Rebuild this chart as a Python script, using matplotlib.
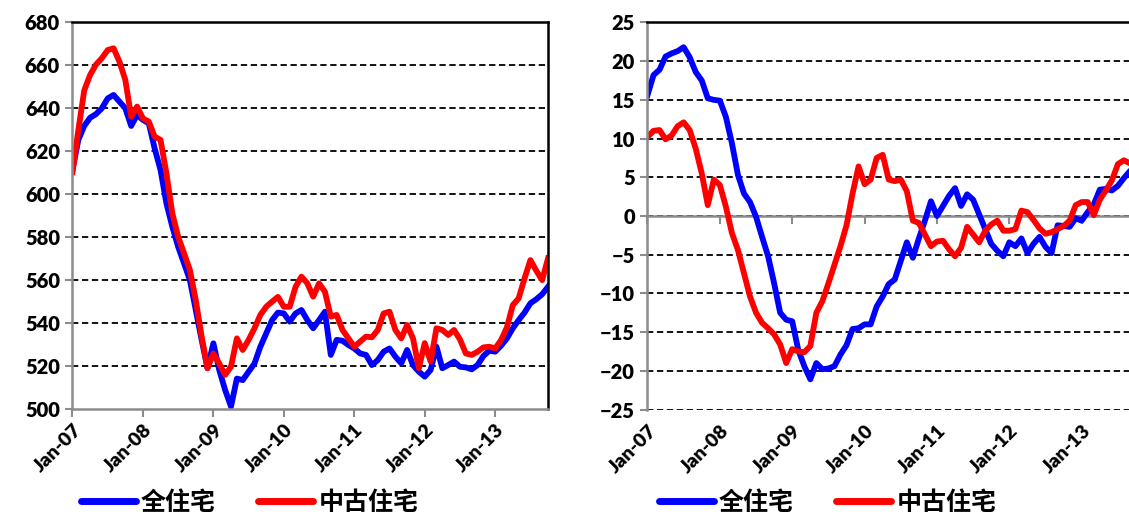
# 全住宅 / 中古住宅 价格与同比 双图
import matplotlib
matplotlib.use('Agg')
import matplotlib.pyplot as plt
from matplotlib.lines import Line2D
import numpy as np

plt.rcParams['font.family'] = ['Lato', 'DejaVu Sans']
plt.rcParams['font.weight'] = 'heavy'

# 月度数据 2007-01 ~ 2013-10
months = np.arange(82)
tick_pos = [0, 12, 24, 36, 48, 60, 72]
tick_label = ['Jan-07', 'Jan-08', 'Jan-09', 'Jan-10', 'Jan-11', 'Jan-12', 'Jan-13']
names = ['全住宅', '中古住宅']

# 左图：价格指数
price_all = [611, 625, 631.5, 635.3, 637, 639.7, 644.3, 645.9, 642.8, 639.7,
             631.5, 636.6, 634.3, 632.7, 621, 611, 595.5, 584.7, 575.3, 567.6,
             559.8, 545.9, 532, 518.8, 530.4, 518, 508.7, 501, 514, 513.3,
             517.2, 521, 528.8, 535, 541.2, 544.7, 544.3, 540.5, 544.3, 545.9,
             541.2, 537.4, 541.2, 545.1, 525, 532, 531.6, 529.6, 528, 525.7,
             525, 520.3, 522.6, 526.5, 528, 524.2, 521.1, 527.3, 520.3, 517.2,
             514.9, 518, 528.8, 518.8, 520.3, 521.9, 519.5, 519.2, 518.3, 520.3,
             524.5, 527, 526.5, 529.3, 532.7, 537.4, 541.2, 544.7, 549, 550.9,
             553.2, 556.7]
price_used = [610, 629.6, 648, 655.2, 660, 663, 666.8, 667.6, 661.4, 652.9,
              635.8, 640.5, 635, 633.5, 626.5, 625, 609.5, 590.9, 580, 572.3,
              564.5, 550.5, 533.5, 518.8, 525.7, 521, 515.7, 519.5, 532.7, 527.3,
              532, 537.4, 543.6, 547.4, 549.8, 552, 547.4, 547.4, 556.7, 561.4,
              558.3, 552.1, 558.3, 554.4, 542.8, 543.6, 536.6, 532.7, 528.8, 531.2,
              533.5, 533.2, 536.6, 544.3, 545.1, 536.6, 532.7, 538.9, 532.7, 518.8,
              530.5, 521.9, 537.4, 536.6, 534.3, 536.6, 532.2, 525.7, 525, 526.5,
              528.5, 528.8, 528, 531.9, 537.8, 548.2, 551.3, 560.6, 569.1, 564.2,
              559.8, 569.9]

# 右图：同比 (%)
yoy_all = [15.6, 18.2, 18.9, 20.6, 21.0, 21.3, 21.8, 20.5, 18.6, 17.5,
           15.2, 15.0, 14.9, 12.8, 9.4, 5.3, 2.9, 1.8, -0.1, -2.7,
           -5.2, -8.7, -12.5, -13.4, -13.6, -17.3, -19.4, -21.1, -19.0, -19.8,
           -19.7, -19.4, -17.9, -16.7, -14.6, -14.5, -14.0, -14.0, -11.7, -10.4,
           -8.8, -8.2, -5.8, -3.4, -5.4, -2.9, -0.6, 1.9, 0.0, 1.3,
           2.6, 3.6, 1.3, 2.8, 2.1, 0.2, -1.7, -3.6, -4.5, -5.2,
           -3.4, -3.9, -2.9, -4.8, -3.6, -2.7, -4.0, -4.8, -1.2, -1.3,
           -1.4, -0.3, -0.6, 0.5, 1.5, 3.4, 3.5, 3.3, 3.9, 4.9,
           5.8, 6.5]
yoy_used = [10.2, 11.0, 11.1, 9.9, 10.4, 11.6, 12.1, 11.1, 8.7, 5.5,
            1.4, 4.7, 4.0, 1.2, -2.2, -4.4, -7.4, -10.4, -12.5, -13.8,
            -14.5, -15.3, -16.6, -19.0, -17.2, -17.5, -17.6, -16.8, -12.5, -11.0,
            -8.7, -6.3, -3.9, -1.2, 2.9, 6.4, 4.1, 4.7, 7.5, 7.9,
            4.7, 4.5, 4.7, 3.2, -0.6, -0.9, -2.4, -3.9, -3.3, -3.2,
            -4.3, -5.2, -4.1, -1.4, -2.4, -3.4, -1.9, -1.1, -0.6, -1.9,
            -1.9, -1.7, 0.7, 0.5, -0.5, -1.6, -2.3, -2.1, -1.7, -1.3,
            -0.6, 1.4, 1.8, 1.8, 0.1, 2.1, 3.3, 4.6, 6.7, 7.2,
            6.8, 6.5]

fig = plt.figure(figsize=(11.29, 5.14), dpi=100)
ax1 = fig.add_axes([0.0642, 0.2049, 0.4212, 0.753])
ax2 = fig.add_axes([0.5735, 0.2033, 0.4327, 0.753])

grid_style = dict(color='black', lw=1.3, ls=(0, (3.5, 2)))
gray = '#8c8c8c'
lw = 4.2


def style_axes(ax, yticks):
    ax.set_xlim(0, 81)
    ax.set_yticks(yticks)
    ax.set_ylim(yticks[0], yticks[-1])
    for y in yticks[1:-1]:
        ax.axhline(y, zorder=0, **grid_style)
    ax.set_xticks(tick_pos)
    ax.set_xticklabels(tick_label, rotation=45, ha='right', rotation_mode='anchor')
    ax.tick_params(axis='x', labelsize=14, colors=gray, labelcolor='black')
    ax.tick_params(axis='y', labelsize=14.5, colors=gray, labelcolor='black',
                   length=5, width=1.5, pad=4)
    for lab in ax.get_xticklabels() + ax.get_yticklabels():
        lab.set_fontweight('heavy')
    for s in ['top', 'right']:
        ax.spines[s].set_color('black')
        ax.spines[s].set_linewidth(1.8)
    ax.spines['left'].set_color(gray)
    ax.spines['left'].set_linewidth(1.8)


# 左图
ax1.plot(months, price_all, color='#0000ff', lw=lw, solid_joinstyle='round')
ax1.plot(months, price_used, color='#ff0000', lw=lw, solid_joinstyle='round')
style_axes(ax1, list(range(500, 681, 20)))
ax1.spines['bottom'].set_color(gray)
ax1.spines['bottom'].set_linewidth(1.8)
ax1.tick_params(axis='x', length=6, width=1.5, pad=3)

# 右图
ax2.plot(months, yoy_all, color='#0000ff', lw=lw, solid_joinstyle='round')
ax2.plot(months, yoy_used, color='#ff0000', lw=lw, solid_joinstyle='round')
style_axes(ax2, list(range(-25, 26, 5)))
ax2.axhline(-25, zorder=0, **grid_style)
ax2.spines['bottom'].set_visible(False)
ax2.tick_params(axis='x', length=0, pad=9)
# 零轴及刻度
zero_ax = ax2.secondary_xaxis(0.5)
zero_ax.set_xticks(tick_pos)
zero_ax.set_xticklabels([])
zero_ax.xaxis.set_ticks_position('bottom')
zero_ax.tick_params(axis='x', direction='out', length=6, width=1.5, colors=gray)
for s in ['top', 'bottom']:
    zero_ax.spines[s].set_color(gray)
    zero_ax.spines[s].set_linewidth(1.8)

# 图例
handles = [Line2D([], [], color='#0000ff', lw=5, solid_capstyle='round'),
           Line2D([], [], color='#ff0000', lw=5, solid_capstyle='round')]
for ax, x0 in [(ax1, 0.221), (ax2, 0.733)]:
    ax.legend(handles, names, loc='center', bbox_to_anchor=(x0, 0.022),
              bbox_transform=fig.transFigure, ncol=2, frameon=False,
              handlelength=2.2, handletextpad=0.2, columnspacing=1.7,
              prop={'family': ['Noto Sans CJK SC', 'DejaVu Sans'],
                    'weight': 'bold', 'size': 18})

fig.savefig('out.png', dpi=100)
